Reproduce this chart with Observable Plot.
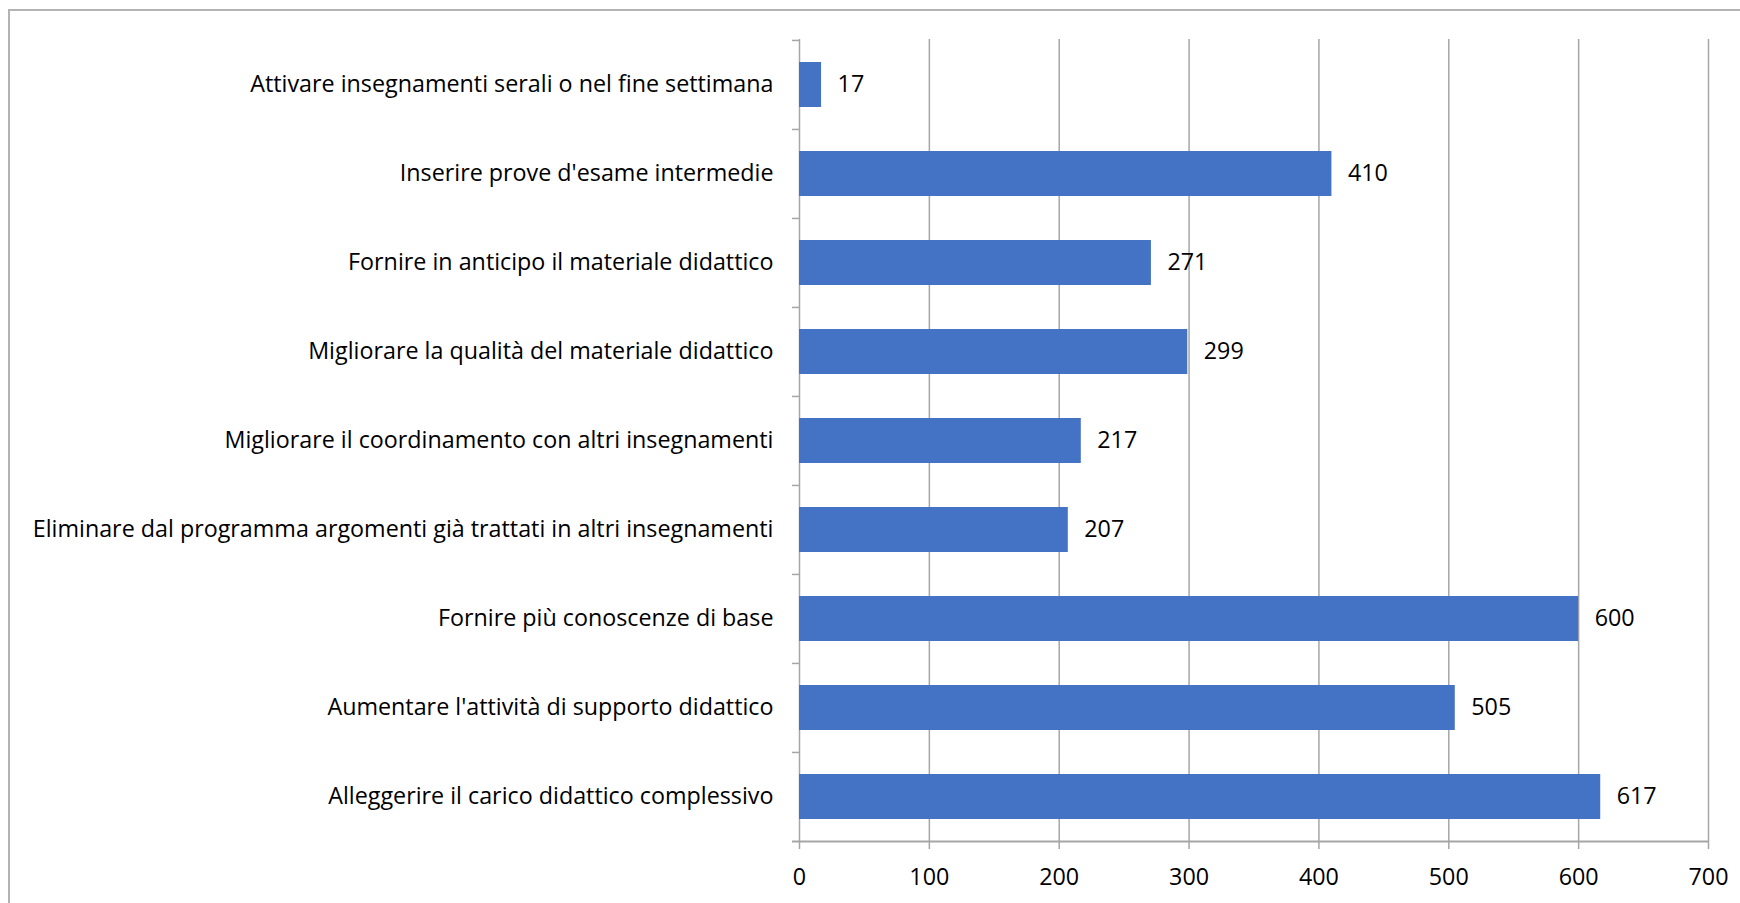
<!DOCTYPE html>
<html>
<head>
<meta charset="utf-8">
<script src="https://cdn.jsdelivr.net/npm/d3@7"></script>
<script src="https://cdn.jsdelivr.net/npm/@observablehq/plot@0.6"></script>
<style>
  html, body { margin: 0; padding: 0; background: #fff; width: 1740px; height: 903px; overflow: hidden; }
  #border { position: absolute; left: 8px; top: 9px; width: 1800px; height: 1000px; border-left: 2px solid #b3b3b3; border-top: 2px solid #b3b3b3; z-index: 2; pointer-events: none; }
  #chart { position: absolute; left: 0; top: 0; z-index: 1; }
  #chart svg { font-family: "Open Sans", Lato, sans-serif; }
</style>
</head>
<body>
<div id="border"></div>
<div id="chart"></div>
<script>
const categories = [
  "Attivare insegnamenti serali o nel fine settimana",
  "Inserire prove d'esame intermedie",
  "Fornire in anticipo il materiale didattico",
  "Migliorare la qualità del materiale didattico",
  "Migliorare il coordinamento con altri insegnamenti",
  "Eliminare dal programma argomenti già trattati in altri insegnamenti",
  "Fornire più conoscenze di base",
  "Aumentare l'attività di supporto didattico",
  "Alleggerire il carico didattico complessivo"
];
const values = [17, 410, 271, 299, 217, 207, 600, 505, 617];
const xTicks = [0, 100, 200, 300, 400, 500, 600, 700];

const data = categories.map((c, i) => ({category: c, value: values[i]}));

const W = 1740, H = 903, mT = 39, mB = 62, mL = 799, mR = 32;
const step = (H - mT - mB) / categories.length;
const grey = "#a6a6a6";
const fs = 23.3;

const chart = Plot.plot({
  width: W,
  height: H,
  marginLeft: mL,
  marginRight: mR,
  marginTop: mT,
  marginBottom: mB,
  style: {background: "transparent", color: "#000"},
  x: {domain: [0, 700], axis: null},
  y: {type: "band", domain: categories, paddingInner: 0.5, paddingOuter: 0.25, axis: null},
  marks: [
    Plot.ruleX(xTicks.slice(1), {stroke: grey, strokeWidth: 1.5}),
    Plot.ruleX([0], {stroke: grey, strokeWidth: 1.5}),
    Plot.ruleY(categories, {y: d => d, x1: 0, x2: 0, insetLeft: -7, dy: -step / 2, stroke: grey, strokeWidth: 1.5}),
    Plot.ruleY(categories.slice(-1), {y: d => d, x1: 0, x2: 700, insetLeft: -7, dy: step / 2, stroke: grey, strokeWidth: 2}),
    Plot.barX(data, {x: "value", y: "category", fill: "#4472C4"}),
    Plot.text(data, {x: "value", y: "category", text: d => String(d.value), textAnchor: "start", dx: 16, fontSize: fs, fill: "#000"}),
    Plot.axisX({ticks: xTicks, tickSize: 8, tickPadding: 19, stroke: grey, strokeWidth: 1.5, fontSize: fs, fill: "#000", tickFormat: d => String(d), label: null}),
    Plot.axisY({tickSize: 0, tickPadding: 26, fontSize: fs, fill: "#000", label: null})
  ]
});
document.getElementById("chart").appendChild(chart);
</script>
</body>
</html>
